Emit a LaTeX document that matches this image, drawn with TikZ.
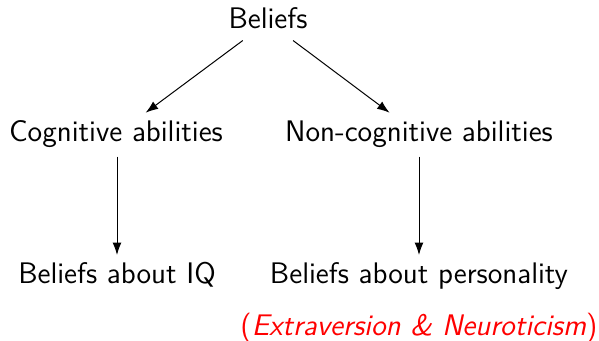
\documentclass[tikz,border=0pt]{standalone}
\usetikzlibrary{arrows.meta}
\begin{document}
\begin{tikzpicture}[x=0.4pt,y=-0.4pt,
  lbl/.style={font=\sffamily\fontsize{11.9}{14}\selectfont, inner xsep=1pt, inner ysep=4pt, text height=7pt, text depth=2pt, anchor=base},
  arr/.style={-{Latex[length=5pt,width=3.6pt]}, line width=0.4pt}]
\useasboundingbox (0,0) rectangle (599,340);
\node[lbl] (b) at (268,28) {Beliefs};
\node[lbl] (c) at (116,141) {Cognitive abilities};
\node[lbl] (n) at (419,141) {Non-cognitive abilities};
\node[lbl] (iq) at (117,283) {Beliefs about IQ};
\node[lbl] (p) at (419,283) {Beliefs about personality};
\node[lbl, text=red] (e) at (419,335) {(\textit{Extraversion \& Neuroticism})};
\draw[arr, shorten <=-2pt, shorten >=0.2pt] (b) -- (c);
\draw[arr, shorten <=-2pt, shorten >=0.2pt] (b) -- (n);
\draw[arr] (c.south -| iq.north) -- (iq.north);
\draw[arr] (n.south) -- (p.north);
\end{tikzpicture}
\end{document}
